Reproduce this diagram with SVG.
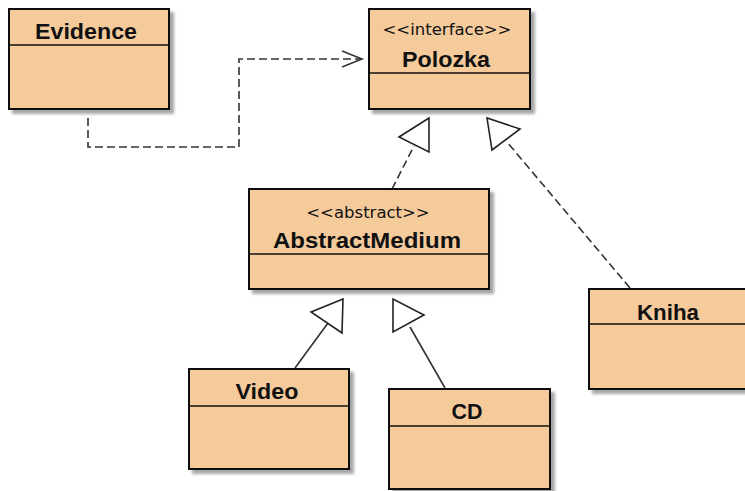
<svg xmlns="http://www.w3.org/2000/svg" width="745" height="491" viewBox="0 0 745 491">
  <defs>
    <style>
      .box { fill: #F5CB9C; stroke: #111; stroke-width: 2; filter: url(#shadow); }
      .div { stroke: #111; stroke-width: 1.6; }
      .name { font-family: "Liberation Sans", Arial, sans-serif; font-weight: bold; font-size: 22px; fill: #111; text-anchor: middle; }
      .stereo { font-family: "DejaVu Sans", "Liberation Sans", sans-serif; font-size: 16.5px; fill: #111; text-anchor: middle; }
      .edge { fill: none; stroke: #333; stroke-width: 1.6; }
      .dash { stroke-dasharray: 8 4; }
      .head { fill: #fff; stroke: #222; stroke-width: 1.6; stroke-linejoin: miter; }
    </style>
    <filter id="shadow" x="-10%" y="-10%" width="130%" height="130%">
      <feGaussianBlur in="SourceAlpha" stdDeviation="1.5" result="b"/>
      <feOffset in="b" dx="4" dy="4" result="o"/>
      <feComponentTransfer in="o" result="s">
        <feFuncA type="linear" slope="0.35"/>
      </feComponentTransfer>
      <feMerge>
        <feMergeNode in="s"/>
        <feMergeNode in="SourceGraphic"/>
      </feMerge>
    </filter>
  </defs>
  <rect width="745" height="491" fill="#fff"/>

  <!-- connectors -->
  <g id="connectors">
    <!-- Evidence uses Polozka -->
    <polyline class="edge dash" points="88,118 88,147 239,147 239,59 361,59"/>
    <polyline class="edge" points="342,51 362,59 342,67"/>
    <!-- AbstractMedium realizes Polozka -->
    <line class="edge dash" x1="392" y1="189" x2="414" y2="146"/>
    <polygon class="head" points="399,137 429,118 429,152"/>
    <!-- Kniha realizes Polozka -->
    <line class="edge dash" x1="630" y1="288" x2="507" y2="142"/>
    <polygon class="head" points="487,118 492,150 520,129"/>
    <!-- Video extends AbstractMedium -->
    <line class="edge" x1="295" y1="368" x2="328" y2="323"/>
    <polygon class="head" points="311,312 343,299 342,333"/>
    <!-- CD extends AbstractMedium -->
    <line class="edge" x1="445" y1="388" x2="410" y2="327"/>
    <polygon class="head" points="393,299 393,332 424,315"/>
  </g>

  <g id="Evidence">
    <rect class="box" x="9" y="9" width="160" height="100"/>
    <line class="div" x1="9" y1="45" x2="169" y2="45"/>
    <text class="name" x="86" y="39" textLength="102" lengthAdjust="spacingAndGlyphs">Evidence</text>
  </g>

  <g id="Polozka">
    <rect class="box" x="369" y="9" width="161" height="100"/>
    <line class="div" x1="369" y1="73" x2="530" y2="73"/>
    <text class="stereo" x="447" y="35">&lt;&lt;interface&gt;&gt;</text>
    <text class="name" x="446" y="67" textLength="88" lengthAdjust="spacingAndGlyphs">Polozka</text>
  </g>

  <g id="AbstractMedium">
    <rect class="box" x="249" y="189" width="240" height="100"/>
    <line class="div" x1="249" y1="254" x2="489" y2="254"/>
    <text class="stereo" x="368" y="218">&lt;&lt;abstract&gt;&gt;</text>
    <text class="name" x="367" y="248" textLength="188" lengthAdjust="spacingAndGlyphs">AbstractMedium</text>
  </g>

  <g id="Kniha">
    <rect class="box" x="589" y="289" width="160" height="100"/>
    <line class="div" x1="589" y1="324" x2="749" y2="324"/>
    <text class="name" x="668" y="320" textLength="62" lengthAdjust="spacingAndGlyphs">Kniha</text>
  </g>

  <g id="Video">
    <rect class="box" x="189" y="369" width="160" height="100"/>
    <line class="div" x1="189" y1="406" x2="349" y2="406"/>
    <text class="name" x="267" y="399" textLength="63" lengthAdjust="spacingAndGlyphs">Video</text>
  </g>

  <g id="CD">
    <rect class="box" x="389" y="389" width="161" height="100"/>
    <line class="div" x1="389" y1="426" x2="550" y2="426"/>
    <text class="name" x="467" y="419" textLength="31" lengthAdjust="spacingAndGlyphs">CD</text>
  </g>
</svg>
